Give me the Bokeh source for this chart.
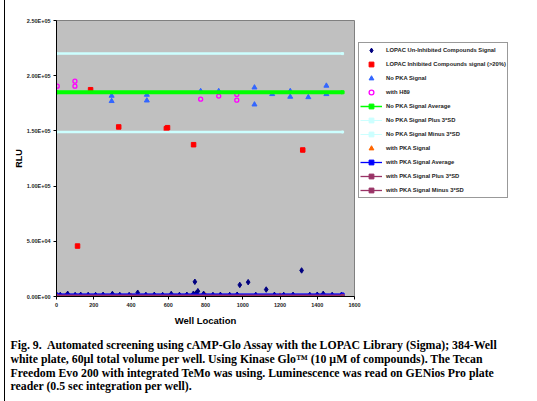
from bokeh.plotting import figure
from bokeh.models import (Range1d, FixedTicker, Legend, LegendItem, Title,
                          InlineStyleSheet)
from bokeh.embed import file_html
from bokeh.resources import INLINE

# ---------------- data ----------------
unin_x = [0, 20, 60, 100, 130, 170, 210, 250, 300, 340, 390, 436, 480, 525, 570, 616,
          660, 700, 735, 743, 749, 759, 790, 840, 880, 930, 970, 984, 1029, 1070,
          1126, 1170, 1220, 1270, 1316, 1360, 1400, 1432, 1480, 1530]
unin_y = [1500, 1400, 2400, 1300, 1500, 1400, 1300, 1500, 2300, 1400, 1300, 3400, 1400, 1500, 1300, 2300,
          1400, 1500, 2500, 13300, 2800, 4800, 2400, 1400, 1500, 1400, 1600, 10500, 13000, 1400,
          6300, 1500, 1400, 1500, 23600, 1400, 1600, 2400, 1400, 1500]

inh_x = [113, 183, 334, 590, 596, 736, 1322]
inh_y = [45700, 187300, 153600, 152000, 152900, 137500, 132700]

nopka_x = [296, 296, 485, 485, 774, 871, 1063, 1063, 1158, 1255, 1255, 1352, 1449, 1449]
nopka_y = [181800, 177000, 182700, 177500, 186000, 186000, 189300, 173900, 183300, 186000,
           180900, 180500, 190900, 183300]

h89_x = [4, 99, 99, 774, 871, 968, 968]
h89_y = [190500, 195000, 190500, 178700, 181500, 177800, 183000]

pka_x = [50, 400, 800, 1200]
pka_y = [700, 600, 800, 700]

line_x = [0, 1536]
nopka_avg = 185000
nopka_plus = 220000
nopka_minus = 149000
pka_avg = 1800
pka_plus = 600
pka_minus = -600

x_ticks = [0, 200, 400, 600, 800, 1000, 1200, 1400, 1600]
y_ticks = [0, 50000, 100000, 150000, 200000, 250000]
y_tick_labels = ["0.00E+00", "5.00E+04", "1.00E+05", "1.50E+05", "2.00E+05", "2.50E+05"]

caption = [
    "Fig. 9.\u00a0 Automated screening using cAMP-Glo Assay with the LOPAC Library (Sigma); 384-Well",
    "white plate, 60\u00b5l total volume per well. Using Kinase Glo\u2122 (10 \u00b5M of compounds). The Tecan",
    "Freedom Evo 200 with integrated TeMo was using. Luminescence was read on GENios Pro plate",
    "reader (0.5 sec integration per well).",
]

# ---------------- figure ----------------
border_css = InlineStyleSheet(css="""
:host::before { content: ""; position: absolute; left: 4px; top: 0px; width: 1px;
  height: 100%; background: #000000; z-index: 5; }
""")
p = figure(width=529, height=398, frame_width=298, frame_height=276,
           output_backend="svg", toolbar_location=None,
           x_range=Range1d(0, 1600), y_range=Range1d(0, 250000),
           min_border_left=56, min_border_right=175, min_border_top=20, min_border_bottom=102,
           stylesheets=[border_css])
p.background_fill_color = "#C0C0C0"
p.border_fill_color = "white"
p.outline_line_color = "#808080"
p.xgrid.visible = False
p.ygrid.visible = False

p.xaxis.ticker = FixedTicker(ticks=x_ticks, minor_ticks=[])
p.yaxis.ticker = FixedTicker(ticks=y_ticks, minor_ticks=[])
p.yaxis.major_label_overrides = {t: l for t, l in zip(y_ticks, y_tick_labels)}
for ax in (p.xaxis[0], p.yaxis[0]):
    ax.axis_line_color = "black"
    ax.major_tick_line_color = "black"
    ax.major_tick_out = 3
    ax.major_tick_in = 0
    ax.minor_tick_out = 0
    ax.minor_tick_in = 0
    ax.major_label_text_font = "Liberation Sans"
    ax.major_label_text_font_style = "bold"
    ax.major_label_text_font_size = "5.5px"
    ax.major_label_text_color = "#222222"
    ax.major_label_standoff = 3
    ax.axis_label_text_font = "Liberation Sans"
    ax.axis_label_text_font_style = "bold"
    ax.axis_label_text_color = "black"
p.xaxis.axis_label = "Well Location"
p.xaxis.axis_label_text_font_size = "9.5px"
p.xaxis.axis_label_standoff = 5
p.yaxis.axis_label = "RLU"
p.yaxis.axis_label_text_font_size = "9px"
p.yaxis.axis_label_standoff = 0

# ---------------- glyphs (markers first, lines drawn over them) ----------------
r_pka = p.scatter(pka_x, pka_y, marker="triangle", size=5, color="#FF6600")
r_unin = p.scatter(unin_x, unin_y, marker="diamond", size=5.5, color="#000080")
r_inh = p.scatter(inh_x, inh_y, marker="square", size=4.5, color="#FF0000")
r_nopka = p.scatter(nopka_x, nopka_y, marker="triangle", size=5, color="#3366FF")
r_h89 = p.scatter(h89_x, h89_y, marker="circle", size=4, fill_color=None,
                  line_color="#FF00FF", line_width=1.3)

# thin line + small square series (these give the legend swatches); the thick
# reference lines are then drawn on top of them with the same data
def series(yval, color, size, thin, thick):
    ys = [yval, yval]
    ln = p.line(line_x, ys, line_color=color, line_width=thin)
    sq = p.scatter(line_x, ys, marker="square", size=size, color=color)
    p.line(line_x, ys, line_color=color, line_width=thick)
    return [ln, sq]

r_avg_pka = series(pka_avg, "#0000FF", 3, 1.3, 2)
r_plus_pka = series(pka_plus, "#993366", 3, 1.3, 2.5)
r_minus_pka = series(pka_minus, "#993366", 3, 1.3, 2.5)
r_plus = series(nopka_plus, "#CCFFFF", 2, 1, 2.5)
r_minus = series(nopka_minus, "#CCFFFF", 2, 1, 2.5)
r_avg = series(nopka_avg, "#00FF00", 3, 1.5, 4)

items = [
    LegendItem(label="LOPAC Un-Inhibited Compounds Signal", renderers=[r_unin]),
    LegendItem(label="LOPAC Inhibited Compounds signal (>20%)", renderers=[r_inh]),
    LegendItem(label="No PKA Signal", renderers=[r_nopka]),
    LegendItem(label="with H89", renderers=[r_h89]),
    LegendItem(label="No PKA Signal Average", renderers=r_avg),
    LegendItem(label="No PKA Signal Plus 3*SD", renderers=r_plus),
    LegendItem(label="No PKA Signal Minus 3*SD", renderers=r_minus),
    LegendItem(label="with PKA Signal", renderers=[r_pka]),
    LegendItem(label="with PKA Signal Average", renderers=r_avg_pka),
    LegendItem(label="with PKA Signal Plus 3*SD", renderers=r_plus_pka),
    LegendItem(label="with PKA Signal Minus 3*SD", renderers=r_minus_pka),
]
legend = Legend(items=items, location=(4, 98), orientation="vertical",
                border_line_color="#333333", border_line_width=1,
                background_fill_color="white", background_fill_alpha=1,
                label_text_font="Liberation Sans", label_text_font_style="bold",
                label_text_font_size="5.8px", label_text_color="#222222",
                glyph_width=22, glyph_height=12, label_height=12, spacing=2,
                padding=1, margin=0, label_standoff=4)
p.add_layout(legend, "right")

# caption as one multi-line title below the axis
p.add_layout(Title(text="\n".join(caption), align="left", offset=-46, standoff=16,
                   text_font="Liberation Serif", text_font_style="bold",
                   text_font_size="11.8px", text_line_height=0.98,
                   text_color="black"), "below")

open("out.html", "w").write(file_html(p, INLINE))
